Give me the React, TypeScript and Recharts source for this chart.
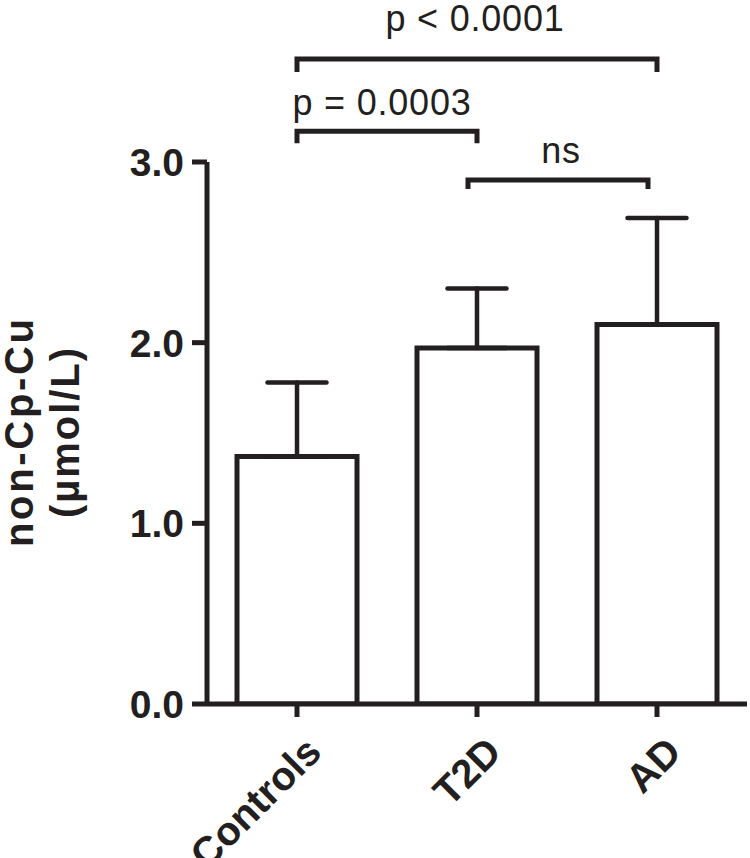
import { BarChart, Bar, XAxis, YAxis, ErrorBar, ReferenceLine, Label } from 'recharts'

const groups = ['Controls', 'T2D', 'AD']
const means = [1.37, 1.97, 2.1]
const sds = [0.41, 0.33, 0.59]
const yTicks = [0, 1, 2, 3]

const comparisons = [
  { from: 'Controls', to: 'AD', label: 'p < 0.0001' },
  { from: 'Controls', to: 'T2D', label: 'p = 0.0003' },
  { from: 'T2D', to: 'AD', label: 'ns' },
]

// bracket layout: level in y units, then pixel tweaks
const bracketStyle = [
  { level: 3.57, drop: 13, shift: 0, labelDx: -2, labelGap: 28 },
  { level: 3.17, drop: 12, shift: 0, labelDx: -5, labelGap: 16 },
  { level: 2.9, drop: 9, shift: -9, labelDx: 3, labelGap: 17 },
]

const INK = '#231f20'
const FONT = '"Liberation Sans", Arial, Helvetica, sans-serif'

const data = groups.map((group, i) => ({
  group,
  mean: means[i],
  err: [0, sds[i]],
}))

const XTick = (props: any) => {
  const { x, y, payload } = props
  return (
    <g transform={`translate(${x + 6},${y + 15}) rotate(-45)`}>
      <text
        x={0}
        y={0}
        dy="0.72em"
        textAnchor="end"
        fontFamily={FONT}
        fontWeight="bold"
        fontSize={40}
        fill={INK}
      >
        {payload.value}
      </text>
    </g>
  )
}

const YTitle = (props: any) => {
  const vb = props.viewBox || { y: 162, height: 542 }
  const cy = vb.y + vb.height / 2
  return (
    <g fontFamily={FONT} fontWeight="bold" fontSize={40} fill={INK}>
      <text
        transform={`translate(33,${cy}) rotate(-90)`}
        textAnchor="middle"
        textLength={228}
        lengthAdjust="spacing"
      >
        non-Cp-Cu
      </text>
      <text
        transform={`translate(79,${cy}) rotate(-90)`}
        textAnchor="middle"
        textLength={170}
        lengthAdjust="spacing"
      >
        (µmol/L)
      </text>
    </g>
  )
}

const makeBracket = (label: string, drop: number, shift: number, labelDx: number, labelGap: number) =>
  (p: any) => {
    const x1 = p.x1 + shift
    const x2 = p.x2 + shift
    const y = p.y1
    return (
      <g>
        <path
          d={`M${x1},${y + drop}L${x1},${y}L${x2},${y}L${x2},${y + drop}`}
          fill="none"
          stroke={INK}
          strokeWidth={5}
        />
        <text
          x={(x1 + x2) / 2 + labelDx}
          y={y - labelGap}
          textAnchor="middle"
          fontFamily={FONT}
          fontSize={36}
          letterSpacing={0.8}
          fill={INK}
        >
          {label}
        </text>
      </g>
    )
  }

export default function App() {
  return (
    <div style={{ position: 'absolute', left: 0, top: 0, width: 750, height: 858, background: '#fff' }}>
      <BarChart
        width={750}
        height={858}
        data={data}
        margin={{ top: 162, right: 3, bottom: 0, left: 107 }}
        barSize={120}
      >
        <XAxis
          dataKey="group"
          tick={<XTick />}
          tickSize={13}
          tickLine={{ stroke: INK, strokeWidth: 5 }}
          axisLine={{ stroke: INK, strokeWidth: 5 }}
          interval={0}
          height={154}
        />
        <YAxis
          width={100}
          domain={[0, 3]}
          ticks={yTicks}
          tickFormatter={(v: number) => v.toFixed(1)}
          tickSize={15}
          tickMargin={8}
          tick={{ fill: INK, fontFamily: FONT, fontWeight: 'bold', fontSize: 39 }}
          tickLine={{ stroke: INK, strokeWidth: 5 }}
          axisLine={{ stroke: INK, strokeWidth: 5 }}
          allowDataOverflow
        >
          <Label content={<YTitle />} />
        </YAxis>
        <Bar dataKey="mean" fill="#ffffff" stroke={INK} strokeWidth={5} isAnimationActive={false}>
          <ErrorBar
            dataKey="err"
            width={29.5}
            stroke={INK}
            strokeWidth={4.5}
            strokeLinecap="round"
            direction="y"
            isAnimationActive={false}
          />
        </Bar>
        {comparisons.map((c, i) => {
          const s = bracketStyle[i]
          return (
            <ReferenceLine
              key={c.label}
              segment={[
                { x: c.from, y: s.level },
                { x: c.to, y: s.level },
              ]}
              ifOverflow="visible"
              shape={makeBracket(c.label, s.drop, s.shift, s.labelDx, s.labelGap)}
            />
          )
        })}
      </BarChart>
    </div>
  )
}
